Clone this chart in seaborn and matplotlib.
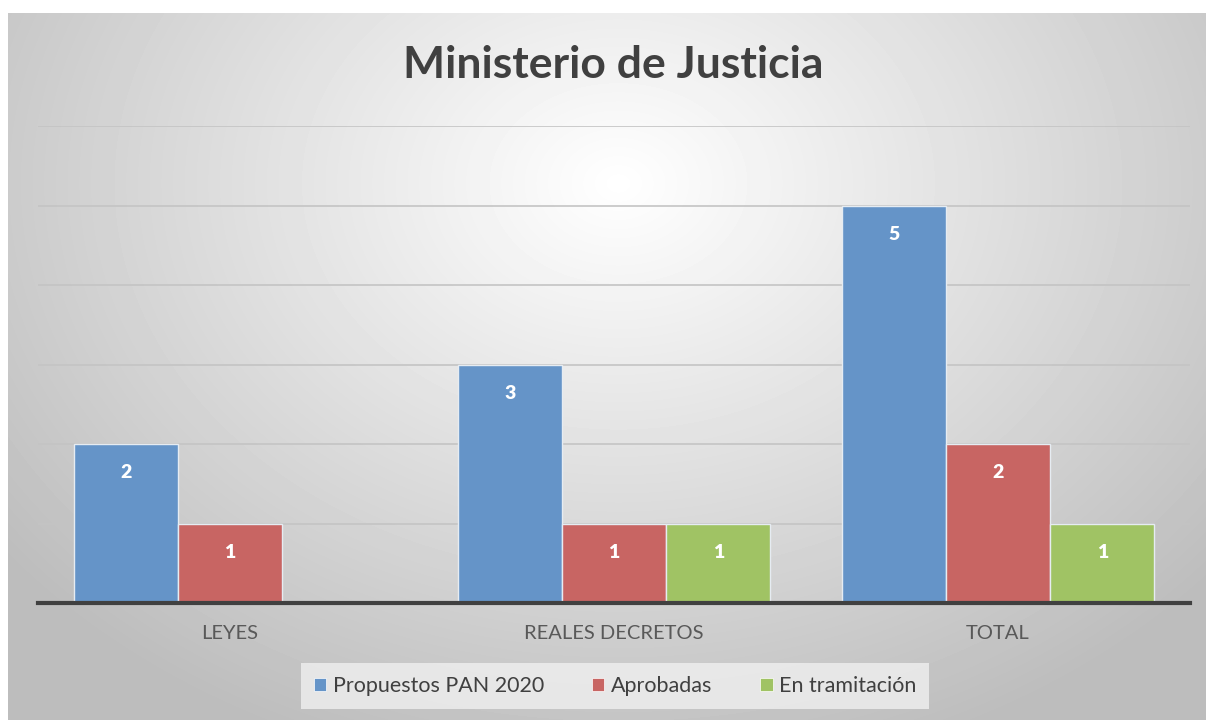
import matplotlib.pyplot as plt
import numpy as np
import pandas as pd
import seaborn as sns

sns.set_theme(style="white")
plt.rcParams['font.family'] = ['Lato', 'DejaVu Sans']

categories = ['LEYES', 'REALES DECRETOS', 'TOTAL']
series = ['Propuestos PAN 2020', 'Aprobadas', 'En tramitación']
propuestos = [2, 3, 5]
aprobadas = [1, 1, 2]
tramitacion = [None, 1, 1]
colors = ['#6594c8', '#c86563', '#a0c364']

rows = []
for name, vals in zip(series, [propuestos, aprobadas, tramitacion]):
    for cat, v in zip(categories, vals):
        if v is not None:
            rows.append({'categoria': cat, 'serie': name, 'valor': v})
df = pd.DataFrame(rows)

fig = plt.figure(figsize=(12.08, 7.2), dpi=100)

# gradient background of the chart area
bg = fig.add_axes([8 / 1208, 0, 1 - 10 / 1208, 1 - 13 / 720], zorder=-10)
yy, xx = np.mgrid[0:707, 0:1198]
d = np.sqrt(((xx - 610) / 900.0) ** 2 + ((yy - 170) / 700.0) ** 2)
shade = np.clip(1 - 0.3 * d, 0.74, 1.0)
bg.imshow(shade, cmap='gray', vmin=0, vmax=1, aspect='auto')
bg.set_axis_off()

ax = fig.add_axes([38 / 1208, 1 - 603 / 720, (1190 - 38) / 1208, (603 - 126) / 720])
ax.patch.set_alpha(0)

sns.barplot(data=df, x='categoria', y='valor', hue='serie', order=categories,
            hue_order=series, palette=colors, width=0.815, ax=ax,
            edgecolor='#e6ecf2', linewidth=1.0, saturation=1, legend=False, zorder=3)

for cont in ax.containers:
    ax.bar_label(cont, label_type='edge', padding=-27, color='white',
                 fontsize=14, fontweight='heavy', zorder=5)

ax.set_ylim(0, 6)
ax.set_xlim(-0.5, 2.5)
ax.set_yticks(range(1, 7))
ax.yaxis.grid(True, color='#c4c4c4', linewidth=1.2, zorder=0)
ax.set_yticklabels([])
ax.tick_params(axis='y', length=0)
ax.tick_params(axis='x', length=0, labelsize=14.5, labelcolor='#595959', pad=16)
ax.set_xlabel('')
ax.set_ylabel('')
for s in ['top', 'right', 'left']:
    ax.spines[s].set_visible(False)
ax.spines['bottom'].set_color('#404040')
ax.spines['bottom'].set_linewidth(3)
ax.spines['bottom'].set_zorder(6)

fig.text(613 / 1208, 1 - 65 / 720, 'Ministerio de Justicia', ha='center', va='center',
         fontsize=32, fontweight='bold', color='#404040')

handles = [plt.Rectangle((0, 0), 1, 1, facecolor=c, edgecolor='white', linewidth=0.5)
           for c in colors]
leg = fig.legend(handles, series, loc='center', bbox_to_anchor=(615 / 1208, 1 - 686 / 720),
                 ncol=3, frameon=True, fontsize=15.5, handlelength=0.6, handleheight=0.6,
                 handletextpad=0.3, columnspacing=2.2, borderpad=0.6, labelcolor='#404040')
leg.get_frame().set_facecolor('#f0f0f0')
leg.get_frame().set_edgecolor('none')
leg.get_frame().set_boxstyle('square', pad=0)

fig.savefig('out.png', dpi=100)
